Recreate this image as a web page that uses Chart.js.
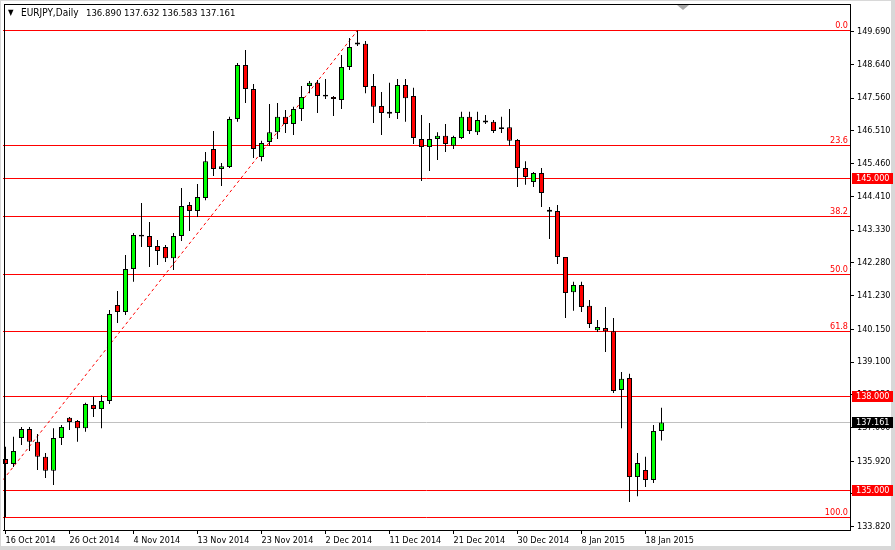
<!DOCTYPE html>
<html>
<head>
<meta charset="utf-8">
<script src="https://cdn.jsdelivr.net/npm/chart.js@4.4.1/dist/chart.umd.min.js"></script>
<style>
html, body { margin: 0; padding: 0; background: #fff; }
canvas { display: block; }
</style>
</head>
<body>
<canvas id="myChart" width="895" height="550"></canvas>
<script>
const ctx = document.getElementById('myChart')

const symbol = 'EURJPY,Daily'

// daily candles, 16 Oct 2014 .. 20 Jan 2015 (broker has sunday bars)
const opens = [135.99,135.83,136.66,136.95,136.54,136.06,135.61,136.66,137.31,137.21,
  136.98,137.72,137.59,137.85,140.93,140.70,142.08,143.14,143.14,142.82,
  142.79,142.43,143.14,144.13,143.94,144.36,145.93,145.29,145.35,146.89,
  148.62,147.85,145.67,146.15,146.47,146.96,146.73,147.21,147.95,148.05,
  147.63,147.60,147.50,148.56,149.30,149.30,147.95,147.31,147.08,147.08,
  147.98,147.63,146.25,145.99,146.25,146.35,146.03,146.28,146.96,146.47,
  146.80,146.80,146.57,146.63,146.22,145.32,144.87,145.16,143.94,143.94,
  142.47,141.34,141.57,140.90,140.12,140.19,140.09,138.20,138.59,135.41,
  135.64,135.32,136.890]
const highs = [136.38,136.70,137.02,137.02,136.79,136.18,136.98,137.08,137.34,137.24,
  137.79,137.98,138.04,140.77,141.38,142.53,143.24,144.20,143.59,143.01,
  142.85,143.24,144.68,144.23,144.81,145.83,146.51,145.48,146.96,148.69,
  149.10,148.01,146.19,147.37,147.40,147.18,147.28,147.95,148.11,148.14,
  148.17,147.63,148.94,149.49,149.73,149.39,148.33,147.76,148.05,148.17,
  148.17,147.89,147.02,146.76,146.47,146.73,146.35,147.12,147.12,147.12,
  147.02,146.86,146.96,147.21,146.25,145.54,145.19,145.32,144.07,144.13,
  142.47,141.67,141.67,141.09,140.45,140.86,140.51,138.78,138.72,136.18,
  136.06,137.08,137.632]
const lows = [134.13,135.73,136.44,136.25,135.64,135.38,135.16,136.44,136.92,136.54,
  136.86,137.34,136.98,137.75,140.35,140.61,141.67,142.79,142.15,142.21,
  142.31,142.05,142.98,143.30,143.75,144.29,145.06,144.74,145.32,146.80,
  147.40,145.64,145.54,146.03,146.25,146.44,146.38,146.83,147.72,147.08,
  147.53,146.99,147.21,148.46,149.23,147.72,146.76,146.38,146.92,146.89,
  146.80,146.09,144.90,145.22,145.58,145.83,145.93,146.25,146.41,146.38,
  146.73,146.44,146.44,146.03,144.71,144.78,144.71,144.07,143.04,142.24,
  140.51,140.74,140.70,140.19,140.06,139.42,138.11,136.98,134.61,134.80,
  135.09,135.22,136.583]
const closes = [135.83,136.25,136.95,136.54,136.06,135.61,136.66,137.02,137.18,136.98,
  137.75,137.59,137.85,140.64,140.70,142.08,143.17,143.16,142.79,142.66,
  142.43,143.14,144.10,143.94,144.39,145.54,145.29,145.38,146.89,148.62,
  147.85,145.93,146.12,146.47,146.96,146.73,147.21,147.60,148.05,147.63,
  147.65,147.53,148.56,149.20,149.32,147.92,147.28,147.08,147.10,147.98,
  147.56,146.28,145.99,146.25,146.35,146.09,146.31,146.96,146.51,146.86,
  146.82,146.51,146.63,146.19,145.32,145.03,145.16,144.52,143.96,142.47,
  141.31,141.57,140.86,140.32,140.22,140.09,138.17,138.56,135.41,135.86,
  135.32,136.89,137.161]

const dateTicks = [0, 8, 16, 24, 32, 40, 48, 56, 64, 72, 80]
const dateLabels = ['16 Oct 2014', '26 Oct 2014', '4 Nov 2014', '13 Nov 2014', '23 Nov 2014',
  '2 Dec 2014', '11 Dec 2014', '21 Dec 2014', '30 Dec 2014', '8 Jan 2015', '18 Jan 2015']

const priceTicks = [149.69, 148.64, 147.56, 146.51, 145.46, 144.41, 143.33, 142.28,
  141.23, 140.15, 139.10, 138.05, 137.00, 135.92, 134.87, 133.82]

const levelLines = [145, 138, 135]

const fibHigh = 149.73
const fibLow = 134.12
const fibLevels = [0, 23.6, 38.2, 50, 61.8, 100]
const trendX = [-4, 44]
const trendY = [134.12, 149.73]

const F = "'DejaVu Sans Condensed', 'DejaVu Sans', sans-serif"

const idx = opens.map((_, i) => i)
const wicks = idx.map(i => ({ x: i, y: [lows[i], highs[i]] }))
const bodies = idx.map(i => {
  let lo = Math.min(opens[i], closes[i])
  let hi = Math.max(opens[i], closes[i])
  if (hi - lo < 0.06) {
    const m = (hi + lo) / 2
    lo = m - 0.03
    hi = m + 0.03
  }
  return { x: i, y: [lo, hi] }
})
const bodyColors = idx.map(i => {
  const d = closes[i] - opens[i]
  if (d > 0.025) return '#00ff00'
  if (d < -0.025) return '#ff0000'
  return '#000000'
})

function line(c, x1, y1, x2, y2) {
  c.beginPath()
  c.moveTo(x1, y1)
  c.lineTo(x2, y2)
  c.stroke()
}

const deco = {
  id: 'deco',
  beforeDraw(chart) {
    const c = chart.ctx
    c.save()
    c.fillStyle = '#ffffff'
    c.fillRect(0, 0, chart.width, chart.height)
    c.restore()
  },
  beforeDatasetsDraw(chart) {
    const c = chart.ctx
    const a = chart.chartArea
    const y = chart.scales.y
    c.save()
    c.lineWidth = 1
    // current price line
    c.strokeStyle = '#c0c0c0'
    let py = Math.round(y.getPixelForValue(closes[closes.length - 1])) + 0.5
    line(c, a.left, py, a.right, py)
    // fibonacci levels
    c.strokeStyle = '#ff0000'
    fibLevels.forEach(l => {
      const v = fibHigh - (fibHigh - fibLow) * l / 100
      const yy = Math.round(y.getPixelForValue(v)) + 0.5
      line(c, a.left, yy, a.right, yy)
    })
    // horizontal levels
    levelLines.forEach(v => {
      const yy = Math.round(y.getPixelForValue(v)) + 0.5
      line(c, a.left, yy, a.right, yy)
    })
    c.restore()
  },
  afterDraw(chart) {
    const c = chart.ctx
    const a = chart.chartArea
    const y = chart.scales.y
    c.save()
    // frame
    c.strokeStyle = '#000'
    c.lineWidth = 1
    line(c, 4, 4.5, a.right, 4.5)
    line(c, 4.5, 4, 4.5, a.bottom)
    // window edges
    c.fillStyle = '#d8d8d8'
    c.fillRect(0, 0, chart.width, 1)
    c.fillRect(0, 0, 1, chart.height)
    c.fillRect(891, 0, 4, chart.height)
    c.fillRect(0, 546, chart.width, 4)
    // shift marker
    c.fillStyle = '#a8a8a8'
    c.beginPath()
    c.moveTo(677, 5)
    c.lineTo(689, 5)
    c.lineTo(683, 10)
    c.closePath()
    c.fill()

    // fib labels
    c.font = '9px ' + F
    c.fillStyle = '#ff0000'
    c.textAlign = 'right'
    c.textBaseline = 'alphabetic'
    fibLevels.forEach(l => {
      const v = fibHigh - (fibHigh - fibLow) * l / 100
      const yy = Math.round(y.getPixelForValue(v))
      c.fillText(l.toFixed(1), a.right - 2, yy - 2)
    })

    // price boxes
    c.textAlign = 'left'
    c.textBaseline = 'middle'
    const box = (v, bg) => {
      const yy = Math.round(y.getPixelForValue(v))
      c.fillStyle = bg
      c.fillRect(a.right + 2, yy - 5, 41, 11)
      c.fillStyle = '#ffffff'
      c.fillText(v.toFixed(3), a.right + 6, yy + 0.5)
    }
    levelLines.forEach(v => box(v, '#ff0000'))
    box(closes[closes.length - 1], '#000000')

    // title
    const n = opens.length - 1
    c.fillStyle = '#000'
    c.textBaseline = 'alphabetic'
    c.font = '8px ' + F
    c.fillText('\u25BC', 8, 15)
    c.font = '10px ' + F
    c.fillText(symbol, 21, 16)
    c.font = '9.5px ' + F
    c.fillText([opens[n], highs[n], lows[n], closes[n]].map(v => v.toFixed(3)).join(' '), 86, 16)
    c.restore()
  }
}

const data = {
  datasets: [
    {
      type: 'bar',
      data: bodies,
      backgroundColor: bodyColors,
      borderColor: '#000000',
      borderWidth: 1,
      borderSkipped: false,
      barThickness: 5,
      grouped: false,
      inflateAmount: 0,
      order: 0
    },
    {
      type: 'bar',
      data: wicks,
      backgroundColor: '#000000',
      borderWidth: 0,
      barThickness: 1,
      grouped: false,
      inflateAmount: 0,
      order: 1
    },
    {
      type: 'line',
      data: trendX.map((x, i) => ({ x: x, y: trendY[i] })),
      borderColor: '#ff0000',
      borderWidth: 1,
      borderDash: [3, 3],
      pointRadius: 0,
      order: 2
    }
  ]
}

const config = {
  type: 'bar',
  data: data,
  plugins: [deco],
  options: {
    responsive: false,
    animation: false,
    layout: { padding: { left: 3, top: 4, right: 0, bottom: 0 } },
    plugins: { legend: { display: false }, tooltip: { enabled: false } },
    scales: {
      x: {
        type: 'linear',
        min: -0.3125,
        max: 105.5625,
        offset: false,
        grid: { drawOnChartArea: false, offset: false, tickLength: 4, color: '#000' },
        border: { color: '#000' },
        ticks: {
          autoSkip: false,
          maxRotation: 0,
          align: 'start',
          padding: 1,
          color: '#000',
          font: { family: F, size: 9 },
          callback: v => dateLabels[dateTicks.indexOf(v)] || ''
        },
        afterBuildTicks: s => { s.ticks = dateTicks.map(v => ({ value: v })) },
        afterFit: s => {
          s.height = 20
          s.paddingLeft = 0
          s.paddingRight = 0
        }
      },
      y: {
        type: 'linear',
        position: 'right',
        min: 133.714,
        max: 150.578,
        grid: { drawOnChartArea: false, tickLength: 4, color: '#000' },
        border: { color: '#000' },
        ticks: {
          autoSkip: false,
          padding: 3,
          color: '#000',
          font: { family: F, size: 9 },
          callback: v => v.toFixed(3)
        },
        afterBuildTicks: s => { s.ticks = priceTicks.map(v => ({ value: v })) },
        afterFit: s => {
          s.width = 45
          s.paddingTop = 0
          s.paddingBottom = 0
        }
      }
    }
  }
}

const myChart = new Chart(ctx, config)
</script>
</body>
</html>
